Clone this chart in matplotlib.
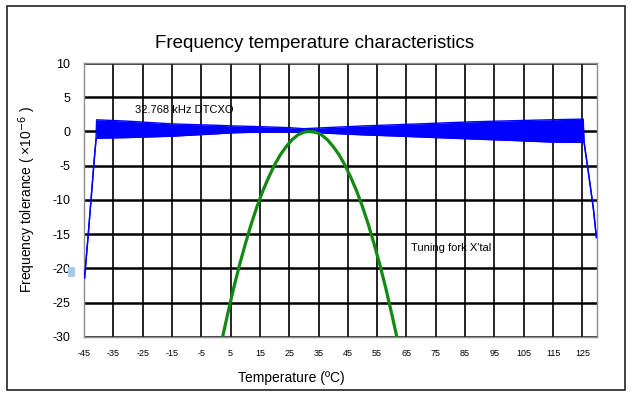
import matplotlib.pyplot as plt
from matplotlib.patches import Rectangle

plt.rcParams['font.family'] = ['Liberation Sans', 'DejaVu Sans']
plt.rcParams['axes.unicode_minus'] = False

# 32.768 kHz DTCXO: envelope of the noisy band (upper / lower edge)
dtcxo_temp = [-44.8, -43.5, -42.4, -41.5, -40.9, -40.7, -30, -15, 0, 6, 15, 25, 30,
              40, 50, 63, 75, 87, 100, 114, 125.3, 125.6, 127.4, 128.8, 129.8]
dtcxo_upper = [-21.4, -14.8, -8.9, -4.1, -1.2, 1.7, 1.5, 1.1, 0.9, 0.8, 0.7, 0.55, 0.4,
               0.6, 0.8, 1.0, 1.2, 1.4, 1.55, 1.7, 1.8, -1.6, -7.0, -11.4, -15.5]
dtcxo_lower = [-21.4, -14.8, -8.9, -4.1, -1.2, -1.0, -0.9, -0.7, -0.35, -0.2, -0.1, -0.05, -0.1,
               -0.3, -0.5, -0.7, -0.9, -1.1, -1.3, -1.55, -1.6, -1.6, -7.0, -11.4, -15.5]

# Tuning fork crystal
fork_temp = [2.3, 4, 6, 8, 10, 12, 14, 16, 18, 20, 22, 24, 26, 28, 30, 32,
             34, 36, 38, 40, 42, 44, 46, 48, 50, 52, 54, 56, 58, 60, 61.7]
fork_ppm = [-30.0, -26.7, -23.0, -19.6, -16.5, -13.6, -11.0, -8.7, -6.7, -4.9, -3.4, -2.2,
            -1.2, -0.5, -0.1, 0.0, -0.1, -0.5, -1.2, -2.2, -3.4, -4.9, -6.7, -8.7, -11.0,
            -13.6, -16.5, -19.6, -23.0, -26.7, -30.0]

x_ticks = list(range(-45, 126, 10))
y_ticks = list(range(-30, 11, 5))

fig = plt.figure(figsize=(6.32, 3.99), dpi=100)
ax = fig.add_axes([0.1329, 0.1561, 0.8117, 0.686])

for x in x_ticks:
    ax.axvline(x, color='black', lw=1.2, zorder=1)
for y in y_ticks:
    ax.axhline(y, color='black', lw=1.8, zorder=1)

ax.fill_between(dtcxo_temp, dtcxo_lower, dtcxo_upper, color='#0000ff', lw=0, zorder=3)
ax.plot(dtcxo_temp, dtcxo_upper, color='#0000ff', lw=1.0, zorder=3)
ax.plot(dtcxo_temp, dtcxo_lower, color='#0000ff', lw=1.0, zorder=3)

ax.plot(fork_temp, fork_ppm, color='#128a12', lw=2.3, zorder=4)

ax.text(-27.6, 3.2, '32.768 kHz DTCXO', fontsize=8, va='center', ha='left', zorder=5)
ax.text(66.4, -17.0, "Tuning fork X'tal", fontsize=8, va='center', ha='left', zorder=5)

ax.set_xlim(-45, 130)
ax.set_ylim(-30, 10)
ax.set_xticks(x_ticks)
ax.set_yticks(y_ticks)
ax.tick_params(axis='x', length=0, labelsize=6.5, pad=9)
ax.tick_params(axis='y', length=0, labelsize=9, pad=10)
for s in ax.spines.values():
    s.set_color('#8c8c8c')
    s.set_linewidth(1.0)

fig.text(0.497, 0.892, 'Frequency temperature characteristics', fontsize=13.5,
         ha='center', va='center')
fig.text(0.461, 0.053, 'Temperature (ºC)', fontsize=10, ha='center', va='center')
fig.text(0.043, 0.5, 'Frequency tolerance ( ×10$^{-6}$ )', fontsize=10,
         ha='center', va='center', rotation=90)

# outer chart frame and the small selection marker near -20
fig.patches.append(Rectangle((7 / 632, 1 - 390 / 399), 618 / 632, 384 / 399,
                             transform=fig.transFigure, fill=False,
                             edgecolor='#222222', lw=1.2))
fig.patches.append(Rectangle((68 / 632, 1 - 277 / 399), 7 / 632, 10 / 399,
                             transform=fig.transFigure, facecolor='#a9c9e6',
                             edgecolor='none'))

fig.savefig('out.png', dpi=100)
